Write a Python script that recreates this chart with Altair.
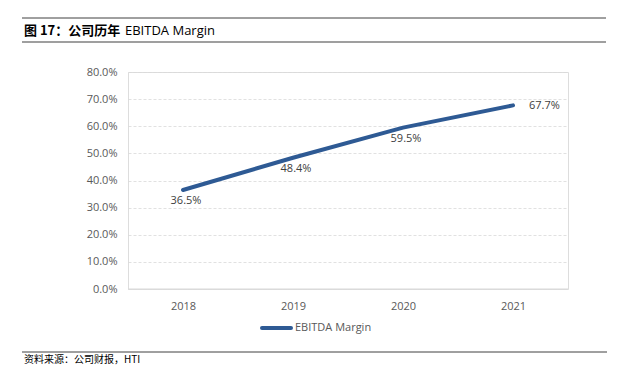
import altair as alt
import pandas as pd

years = ["2018", "2019", "2020", "2021"]
margin = [0.365, 0.484, 0.595, 0.677]
y_ticks = [0.0, 0.1, 0.2, 0.3, 0.4, 0.5, 0.6, 0.7, 0.8]
title_cn = ["图 17：公司历年"]
title_en = ["EBITDA Margin"]
source_text = ["资料来源：公司财报，HTI"]
legend_text = ["EBITDA Margin"]

df = pd.DataFrame({"year": years, "margin": margin})
one = pd.DataFrame({"k": [0]})

LINE_COLOR = "#2E5A94"
TXT = "#595959"

x_enc = alt.X("year:N", sort=years, title=None,
              scale=alt.Scale(type="point", padding=0.5),
              axis=alt.Axis(labelAngle=0, domain=False, ticks=False, labelPadding=11,
                            labelFontSize=11, labelColor=TXT, labelFont="Open Sans", grid=False))
y_enc = alt.Y("margin:Q", title=None,
              scale=alt.Scale(domain=[0, 0.8], nice=False),
              axis=alt.Axis(values=y_ticks, tickCount=20, format=".1%", domain=False, ticks=False,
                            labelOverlap=False, labelPadding=11, labelFontSize=11,
                            labelColor=TXT, labelFont="Open Sans",
                            gridColor="#d9d9d9", gridDash=[3, 2], gridWidth=0.8))

base = alt.Chart(df)
line = base.mark_line(color=LINE_COLOR, strokeWidth=4, strokeCap="round").encode(x=x_enc, y=y_enc)

baseline = alt.Chart(one).mark_rule(color="#d9d9d9", strokeWidth=1.2).encode(
    x=alt.value(0), x2=alt.value(440), y=alt.value(217))

lab_below = base.transform_filter(alt.datum.year != "2021").mark_text(
    dy=11, dx=3, fontSize=11, color="#404040", font="Open Sans").encode(
    x=alt.X("year:N", sort=years), y="margin:Q", text=alt.Text("margin:Q", format=".1%"))
lab_right = base.transform_filter(alt.datum.year == "2021").mark_text(
    dx=16, dy=1, align="left", fontSize=11, color="#404040", font="Open Sans").encode(
    x=alt.X("year:N", sort=years), y="margin:Q", text=alt.Text("margin:Q", format=".1%"))

top_rule = alt.Chart(one).mark_rule(color="#404040", strokeWidth=1).encode(
    x=alt.value(-106), x2=alt.value(478), y=alt.value(-54))
title_rule = alt.Chart(one).mark_rule(color="#7f7f7f", strokeWidth=1.5).encode(
    x=alt.value(-106), x2=alt.value(478), y=alt.value(-30))
bottom_rule = alt.Chart(one).mark_rule(color="#404040", strokeWidth=1).encode(
    x=alt.value(-106), x2=alt.value(479), y=alt.value(280))

title1 = alt.Chart(pd.DataFrame({"t": title_cn})).mark_text(
    align="left", baseline="middle", fontSize=13, fontWeight="bold", color="#000000",
    font="Noto Sans CJK SC").encode(x=alt.value(-104), y=alt.value(-41), text="t:N")
title2 = alt.Chart(pd.DataFrame({"t": title_en})).mark_text(
    align="left", baseline="middle", fontSize=13, color="#000000",
    font="Open Sans").encode(x=alt.value(-3), y=alt.value(-41), text="t:N")
source = alt.Chart(pd.DataFrame({"t": source_text})).mark_text(
    align="left", baseline="middle", fontSize=10, color="#000000",
    font="Noto Sans CJK SC").encode(x=alt.value(-104), y=alt.value(288), text="t:N")

leg_line = alt.Chart(one).mark_rule(color=LINE_COLOR, strokeWidth=4, strokeCap="round").encode(
    x=alt.value(134), x2=alt.value(163), y=alt.value(256))
leg_text = alt.Chart(pd.DataFrame({"t": legend_text})).mark_text(
    align="left", baseline="middle", fontSize=11, color=TXT, font="Open Sans").encode(
    x=alt.value(167), y=alt.value(256), text="t:N")

chart = alt.layer(
    line, baseline, lab_below, lab_right, top_rule, title_rule, bottom_rule,
    title1, title2, source, leg_line, leg_text
).properties(
    width=440, height=217,
    autosize=alt.AutoSizeParams(type="none"),
    padding={"left": 120, "top": 64, "right": 52, "bottom": 84},
).configure_view(stroke=None).configure(background="white")

chart.save("out.html", embed_options={"renderer": "svg", "actions": False})
